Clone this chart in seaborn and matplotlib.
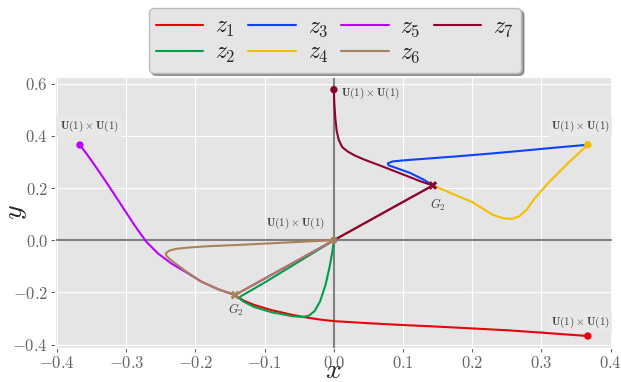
import numpy as np
import pandas as pd
import matplotlib
matplotlib.use("Agg")
import matplotlib.pyplot as plt
from matplotlib.ticker import FuncFormatter
import seaborn as sns

# ---- data: flow curves in the (x, y) plane ----
z1_x = [0.367, 0.33, 0.3, 0.25, 0.2, 0.15, 0.1, 0.05, 0.0, -0.02, -0.035, -0.06, -0.09, -0.115, -0.13, -0.138, -0.143]
z1_y = [-0.367, -0.36, -0.354, -0.345, -0.338, -0.331, -0.325, -0.318, -0.31, -0.304, -0.298, -0.286, -0.268, -0.248, -0.232, -0.219, -0.21]

z2_x = [0.0, -0.002, -0.006, -0.012, -0.02, -0.028, -0.036, -0.045, -0.06, -0.09, -0.115, -0.13, -0.137, -0.134, -0.1, -0.05, 0.0]
z2_y = [0.0, -0.04, -0.1, -0.17, -0.235, -0.272, -0.289, -0.294, -0.291, -0.276, -0.256, -0.236, -0.222, -0.214, -0.162, -0.081, 0.0]

z3_x = [0.367, 0.32, 0.28, 0.23, 0.18, 0.13, 0.1, 0.085, 0.078, 0.079, 0.088, 0.11, 0.13, 0.143, 0.07, 0.0]
z3_y = [0.366, 0.355, 0.345, 0.333, 0.322, 0.312, 0.306, 0.302, 0.295, 0.287, 0.279, 0.258, 0.232, 0.21, 0.103, 0.0]

z4_x = [0.367, 0.34, 0.31, 0.29, 0.278, 0.268, 0.258, 0.245, 0.23, 0.2, 0.17, 0.143, 0.07, 0.0]
z4_y = [0.366, 0.3, 0.22, 0.16, 0.115, 0.092, 0.082, 0.084, 0.097, 0.146, 0.18, 0.21, 0.103, 0.0]

z5_x = [-0.367, -0.357, -0.3455, -0.326, -0.307, -0.288, -0.271, -0.254, -0.235, -0.215, -0.192, -0.168, -0.143, -0.07, 0.0]
z5_y = [0.365, 0.33, 0.287, 0.211, 0.134, 0.057, -0.006, -0.051, -0.089, -0.12, -0.158, -0.187, -0.21, -0.103, 0.0]

z6_x = [0.0, -0.04, -0.086, -0.13, -0.182, -0.21, -0.228, -0.238, -0.243, -0.242, -0.238, -0.232, -0.215, -0.192, -0.168, -0.143, -0.07, 0.0]
z6_y = [0.0, -0.005, -0.011, -0.017, -0.023, -0.028, -0.033, -0.04, -0.05, -0.06, -0.07, -0.083, -0.117, -0.158, -0.187, -0.21, -0.103, 0.0]

z7_x = [0.0, 0.0005, 0.002, 0.004, 0.007, 0.012, 0.02, 0.03, 0.043, 0.07, 0.1, 0.125, 0.143, 0.07, 0.0]
z7_y = [0.577, 0.53, 0.47, 0.42, 0.385, 0.357, 0.34, 0.325, 0.31, 0.283, 0.252, 0.226, 0.21, 0.103, 0.0]

curves = [(z1_x, z1_y), (z2_x, z2_y), (z3_x, z3_y), (z4_x, z4_y),
          (z5_x, z5_y), (z6_x, z6_y), (z7_x, z7_y)]
labels = [r"$z_{%d}$" % (i + 1) for i in range(7)]
colors = ["#e8000b", "#009e49", "#0a44ff", "#f5bd00", "#bb00ff", "#a8825a", "#8c0034"]

# fixed points
dot_x = [0.367, 0.367, -0.367, 0.0, 0.0]
dot_y = [-0.367, 0.366, 0.365, 0.577, 0.0]
dot_c = ["#e8000b", "#f5bd00", "#bb00ff", "#8c0034", "#a8825a"]
g2_x = [-0.143, 0.143]
g2_y = [-0.21, 0.21]
g2_c = ["#a8825a", "#8c0034"]

# ---- style ----
sns.set_style("darkgrid", {"axes.facecolor": "#E5E5E5", "grid.color": "white",
                           "xtick.bottom": True, "ytick.left": True})
plt.rcParams["mathtext.fontset"] = "cm"
plt.rcParams["font.family"] = ["DejaVu Serif"]
plt.rcParams["xtick.color"] = "#666666"
plt.rcParams["ytick.color"] = "#666666"
plt.rcParams["xtick.major.size"] = 3
plt.rcParams["ytick.major.size"] = 3

fig = plt.figure(figsize=(6.21, 3.82), dpi=100)
ax = fig.add_axes([0.0886, 0.089, 0.897, 0.709])

ax.axhline(0, color="#808080", lw=1.5, zorder=1)
ax.axvline(0, color="#808080", lw=1.5, zorder=1)

for (cx, cy), lab, col in zip(curves, labels, colors):
    df = pd.DataFrame({"x": cx, "y": cy})
    sns.lineplot(data=df, x="x", y="y", sort=False, estimator=None, color=col,
                 lw=1.5, label=lab, ax=ax, zorder=3)

sns.scatterplot(x=dot_x, y=dot_y, c=dot_c, s=28, linewidth=0, ax=ax, zorder=4)
sns.scatterplot(x=g2_x, y=g2_y, c=g2_c, s=40, marker="X", linewidth=0, ax=ax, zorder=4)

# annotations (boxes sit above the grid but under the curves)
ut = r"$\mathbf{U(1)\times U(1)}$"
box = dict(facecolor="#E8E8E8", edgecolor="none", pad=2)
tc = "#444444"
ax.text(-0.353, 0.437, ut, ha="center", va="center", fontsize=8, color=tc, bbox=box, zorder=2)
ax.text(0.011, 0.563, ut, ha="left", va="center", fontsize=8, color=tc, zorder=2)
ax.text(0.357, 0.437, ut, ha="center", va="center", fontsize=8, color=tc, bbox=box, zorder=2)
ax.text(0.357, -0.316, ut, ha="center", va="center", fontsize=8, color=tc, bbox=box, zorder=2)
ax.text(-0.055, 0.065, ut, ha="center", va="center", fontsize=8, color=tc, zorder=2)
ax.text(0.15, 0.134, r"$G_2$", ha="center", va="center", fontsize=9, color=tc)
ax.text(-0.141, -0.268, r"$G_2$", ha="center", va="center", fontsize=9, color=tc)

ax.set_xlim(-0.403, 0.402)
ax.set_ylim(-0.413, 0.625)
ax.set_xticks([-0.4, -0.3, -0.2, -0.1, 0.0, 0.1, 0.2, 0.3, 0.4])
ax.set_yticks([-0.4, -0.2, 0.0, 0.2, 0.4, 0.6])
fmt = FuncFormatter(lambda v, p: r"$%.1f$" % v if abs(v) > 1e-9 else r"$0.0$")
ax.xaxis.set_major_formatter(fmt)
ax.yaxis.set_major_formatter(fmt)
ax.tick_params(labelsize=12, pad=2)
ax.set_xlabel(r"$x$", fontsize=20, labelpad=-11)
ax.set_ylabel(r"$y$", fontsize=20, labelpad=-12)

leg = ax.legend(loc="upper center", bbox_to_anchor=(335 / 621, 1 - 8 / 382),
                bbox_transform=fig.transFigure, borderaxespad=0, ncol=4, fontsize=17,
                handlelength=2.0, handletextpad=0.5, columnspacing=0.55,
                labelspacing=0.1, borderpad=0.3, frameon=True, fancybox=True,
                shadow=True, facecolor="#E5E5E5", edgecolor="#BBBBBB", framealpha=1)

fig.savefig("out.png", dpi=100)
